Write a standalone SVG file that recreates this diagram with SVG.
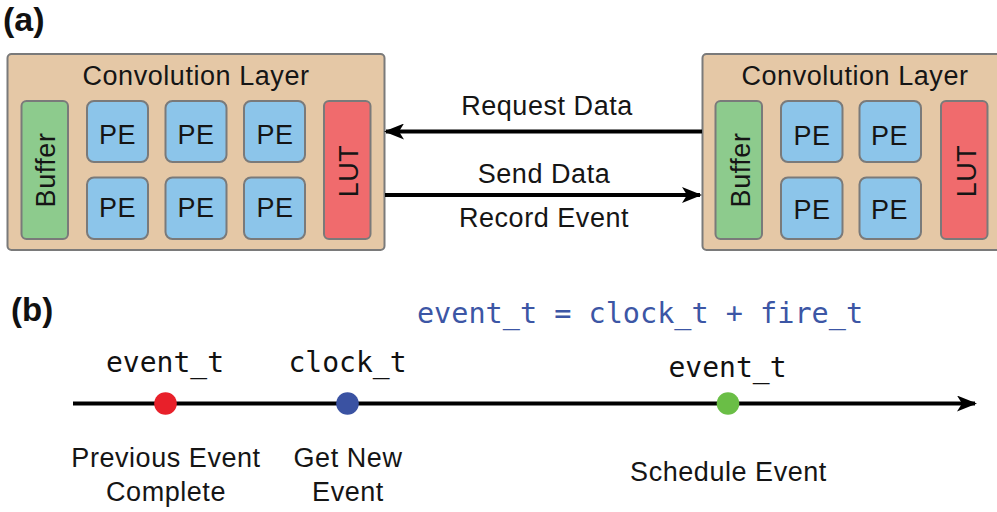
<svg xmlns="http://www.w3.org/2000/svg" width="997" height="512" viewBox="0 0 997 512">
  <style>
    .sans { font-family: "Liberation Sans", Arial, sans-serif; font-size: 27px; letter-spacing: 0.55px; fill: #151515; text-anchor: middle; }
    .mono { font-family: "DejaVu Sans Mono", "Liberation Mono", monospace; font-size: 28px; fill: #111; text-anchor: middle; }
    .tag { font-family: "Liberation Sans", Arial, sans-serif; font-weight: bold; fill: #111; }
    .layer { fill: #e5c8a6; stroke: #7a7a7a; stroke-width: 2; }
    .buffer { fill: #8dcb8d; stroke: #7a7a7a; stroke-width: 2; }
    .pe { fill: #8cc5ea; stroke: #7a7a7a; stroke-width: 2; }
    .lut { fill: #f06b6d; stroke: #7a7a7a; stroke-width: 2; }
    .wire { stroke: #000; stroke-width: 4; fill: none; }
  </style>
  <defs>
    <marker id="head" viewBox="0 0 20 16" refX="18" refY="8" markerWidth="20" markerHeight="16" markerUnits="userSpaceOnUse" orient="auto">
      <path d="M0,0 L20,8 L0,16 L5,8 Z" fill="#000"/>
    </marker>
  </defs>

  <rect width="997" height="512" fill="#fff"/>

  <!-- panel (a) -->
  <text class="tag" x="3" y="31" style="font-size:34px">(a)</text>

  <g id="layer-left">
    <rect class="layer" x="7.5" y="54" width="377" height="196" rx="4"/>
    <text class="sans" x="196" y="85">Convolution Layer</text>
    <g id="buffer-left">
      <rect class="buffer" x="21.5" y="101" width="46.5" height="138" rx="5"/>
      <text class="sans" transform="translate(54.5,170) rotate(-90)">Buffer</text>
    </g>
    <g id="pe-l1"><rect class="pe" x="87" y="101" width="61" height="61" rx="7"/><text class="sans" x="117.5" y="144">PE</text></g>
    <g id="pe-l2"><rect class="pe" x="165.5" y="101" width="61" height="61" rx="7"/><text class="sans" x="196" y="144">PE</text></g>
    <g id="pe-l3"><rect class="pe" x="244" y="101" width="61" height="61" rx="7"/><text class="sans" x="275" y="144">PE</text></g>
    <g id="pe-l4"><rect class="pe" x="87" y="177.5" width="61" height="61.5" rx="7"/><text class="sans" x="117.5" y="217">PE</text></g>
    <g id="pe-l5"><rect class="pe" x="165.5" y="177.5" width="61" height="61.5" rx="7"/><text class="sans" x="196" y="217">PE</text></g>
    <g id="pe-l6"><rect class="pe" x="244" y="177.5" width="61" height="61.5" rx="7"/><text class="sans" x="275" y="217">PE</text></g>
    <g id="lut-left">
      <rect class="lut" x="324" y="101" width="46.5" height="138" rx="5"/>
      <text class="sans" transform="translate(357.5,171) rotate(-90)">LUT</text>
    </g>
  </g>

  <g id="layer-right">
    <rect class="layer" x="702.5" y="54" width="310" height="196" rx="4"/>
    <text class="sans" x="855" y="85">Convolution Layer</text>
    <g id="buffer-right">
      <rect class="buffer" x="715.5" y="101" width="46.5" height="138" rx="5"/>
      <text class="sans" transform="translate(749.5,170) rotate(-90)">Buffer</text>
    </g>
    <g id="pe-r1"><rect class="pe" x="781" y="101" width="61.5" height="61" rx="7"/><text class="sans" x="812" y="145">PE</text></g>
    <g id="pe-r2"><rect class="pe" x="859.5" y="101" width="61.5" height="61" rx="7"/><text class="sans" x="889.5" y="145">PE</text></g>
    <g id="pe-r3"><rect class="pe" x="781" y="177.5" width="61.5" height="61.5" rx="7"/><text class="sans" x="812" y="219">PE</text></g>
    <g id="pe-r4"><rect class="pe" x="859.5" y="177.5" width="61.5" height="61.5" rx="7"/><text class="sans" x="889.5" y="219">PE</text></g>
    <g id="lut-right">
      <rect class="lut" x="941" y="101" width="46.5" height="138" rx="5"/>
      <text class="sans" transform="translate(975.5,171) rotate(-90)">LUT</text>
    </g>
  </g>

  <g id="connectors">
    <line class="wire" x1="702" y1="131.5" x2="386" y2="131.5" marker-end="url(#head)"/>
    <line class="wire" x1="385" y1="195" x2="700" y2="195" marker-end="url(#head)"/>
    <line class="wire" x1="73" y1="403.5" x2="975" y2="403.5" marker-end="url(#head)"/>
  </g>

  <g id="link-labels">
    <text class="sans" x="547" y="115">Request Data</text>
    <text class="sans" x="544" y="183">Send Data</text>
    <text class="sans" x="544" y="227">Record Event</text>
  </g>

  <!-- panel (b) -->
  <text class="tag" x="11" y="321" style="font-size:33px">(b)</text>
  <text class="mono" x="640" y="323" style="fill:#3c56a5;font-size:28.5px">event_t = clock_t + fire_t</text>

  <g id="event-prev">
    <text class="mono" x="165" y="372">event_t</text>
    <circle cx="165.5" cy="403.5" r="11.3" fill="#e8202a"/>
    <text class="sans" x="166" y="467">Previous Event</text>
    <text class="sans" x="166" y="501">Complete</text>
  </g>
  <g id="event-clock">
    <text class="mono" x="347.5" y="372">clock_t</text>
    <circle cx="347.5" cy="403.5" r="11.3" fill="#3a52a2"/>
    <text class="sans" x="348" y="467">Get New</text>
    <text class="sans" x="348" y="501">Event</text>
  </g>
  <g id="event-next">
    <text class="mono" x="727.5" y="377">event_t</text>
    <circle cx="728" cy="403.5" r="11.3" fill="#6abe46"/>
    <text class="sans" x="728.5" y="481">Schedule Event</text>
  </g>
</svg>
